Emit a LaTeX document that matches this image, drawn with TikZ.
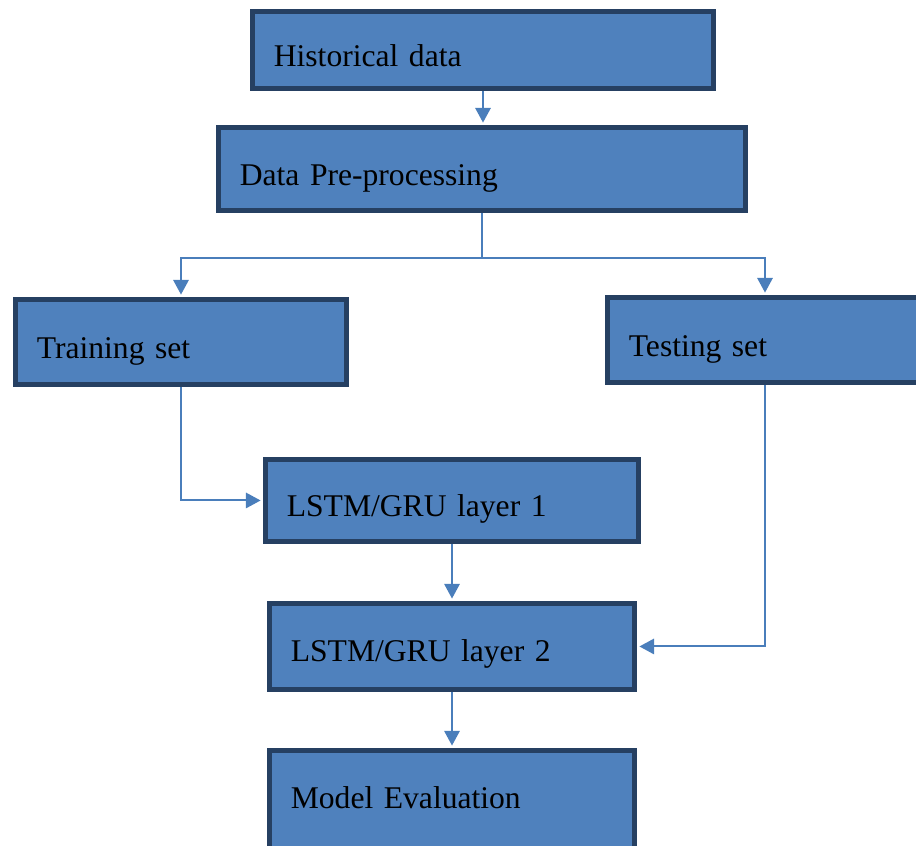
\documentclass[tikz,border=0pt]{standalone}
\usepackage{fontspec}
\setmainfont{Liberation Serif}
\usepackage{xcolor}
\usetikzlibrary{arrows.meta}

\definecolor{boxfill}{RGB}{79,129,189}
\definecolor{boxline}{RGB}{38,64,98}
\definecolor{linkblue}{RGB}{74,126,187}

\tikzset{
    stage/.style={draw=boxline, fill=boxfill, line width=3.75pt, align=left,
        inner xsep=16pt, text height=24pt, text depth=0pt,
        font=\fontsize{23.7}{28}\selectfont},
    flow/.style={draw=linkblue, line width=1.5pt, shorten >=1.8pt,
        -{Triangle[length=11pt,width=11.5pt]}}
}

\begin{document}
\begin{tikzpicture}
        \useasboundingbox (0,0) rectangle (687pt,-633.75pt);

        \node[stage, text width=313.75pt, minimum height=57.75pt, text height=25.5pt] (hist) at (362.25pt,-37.5pt) {Historical data};
        \node[stage, text width=363.25pt, minimum height=62.25pt, below of=hist, node distance=89.25pt, xshift=-0.75pt] (prep) {Data Pre-processing};
        \node[stage, text width=216.25pt, minimum height=63.75pt, below of=prep, node distance=129.75pt, xshift=-225.75pt, text height=25pt] (train) {Training set};
        \node[stage, text width=204.25pt, minimum height=63.75pt, right of=train, node distance=438pt, yshift=1.5pt] (test) {Testing set};
        \node[stage, text width=247.75pt, minimum height=61.5pt, below of=prep, node distance=248.6pt, xshift=-22.5pt] (lstm1) {LSTM/GRU layer 1};
        \node[stage, text width=241.75pt, minimum height=64.5pt, below of=lstm1, node distance=109.5pt, text height=22pt] (lstm2) {LSTM/GRU layer 2};
        \node[stage, text width=241.75pt, minimum height=90pt, below of=lstm2, node distance=123pt, text depth=26.25pt] (eval) {Model Evaluation};

        \draw[flow] (hist.south) -- (hist.south |- prep.north);
        \draw[draw=linkblue, line width=1.5pt] (prep.south) -- ++(0,-33.4pt) coordinate (split);
        \draw[flow] (split) -| (train.north);
        \draw[flow] (split) -| (test.north);
        \draw[flow] (train.south) |- (lstm1.west);
        \draw[flow] (lstm1.south) -- (lstm2.north);
        \draw[flow] (test.south) |- (lstm2.east);
        \draw[flow] (lstm2.south) -- (eval.north);
    \end{tikzpicture}
\end{document}
